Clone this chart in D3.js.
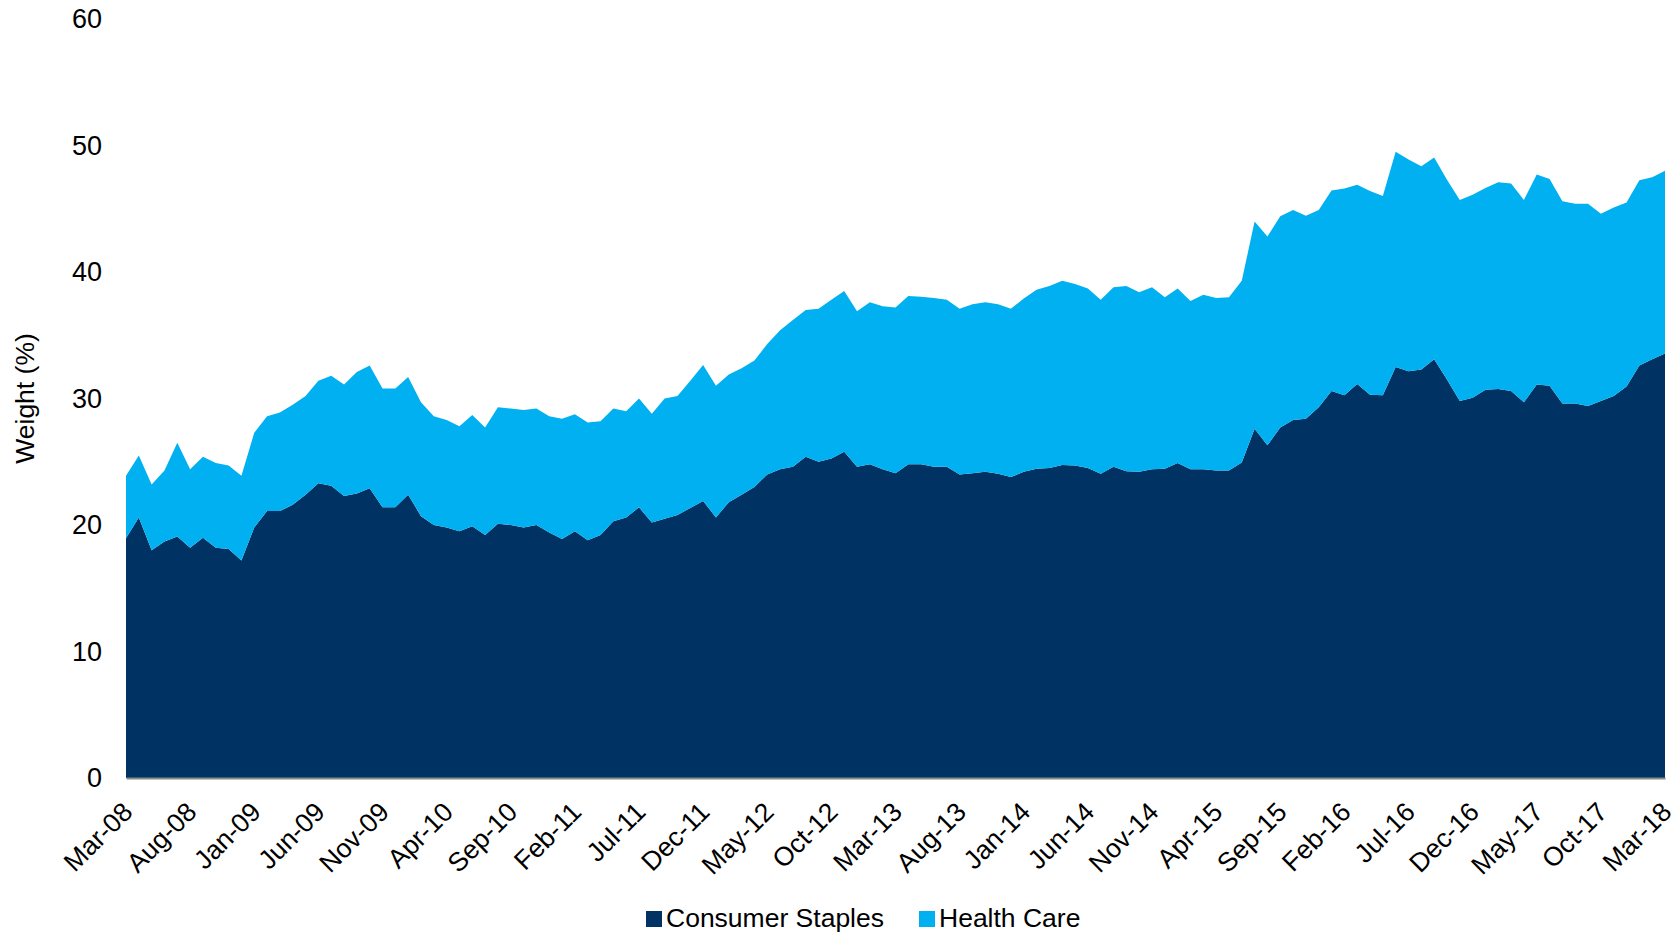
<!DOCTYPE html>
<html>
<head>
    <script src="https://d3js.org/d3.v7.min.js"></script>
    <style>
        body { margin: 0; background-color: white; }
        text { font-family: "Liberation Sans", Arial, Helvetica, sans-serif; fill: #000; }
    </style>
</head>

<body>

<div id="my_chart"></div>

<script>
    // monthly category labels, Mar-08 .. Mar-18
    var months = d3.timeMonth.range(new Date(2008, 2, 1), new Date(2018, 3, 1))
                   .map(d3.timeFormat("%b-%y"));

    // x axis labels shown (every 5 months)
    var tickLabels = ["Mar-08", "Aug-08", "Jan-09", "Jun-09", "Nov-09", "Apr-10", "Sep-10",
                      "Feb-11", "Jul-11", "Dec-11", "May-12", "Oct-12", "Mar-13", "Aug-13",
                      "Jan-14", "Jun-14", "Nov-14", "Apr-15", "Sep-15", "Feb-16", "Jul-16",
                      "Dec-16", "May-17", "Oct-17", "Mar-18"];

    var yTicks = [0, 10, 20, 30, 40, 50, 60];

    var seriesNames = ["Consumer Staples", "Health Care"];

    // weight (%)
    var consumerStaples = [
        18.95, 20.6, 18.0, 18.7, 19.1, 18.2, 19.0, 18.2, 18.1, 17.2,
        19.8, 21.1, 21.1, 21.6, 22.4, 23.3, 23.1, 22.3, 22.5, 22.9,
        21.4, 21.4, 22.4, 20.7, 20.0, 19.8, 19.5, 19.9, 19.2, 20.1,
        20.0, 19.8, 20.0, 19.4, 18.9, 19.5, 18.8, 19.2, 20.3, 20.6,
        21.4, 20.2, 20.5, 20.8, 21.35, 21.9, 20.6, 21.8, 22.4, 23.0,
        24.0, 24.4, 24.6, 25.4, 25.0, 25.25, 25.8, 24.6, 24.8, 24.4,
        24.1, 24.8, 24.8, 24.6, 24.6, 24.0, 24.1, 24.2, 24.05, 23.8,
        24.2, 24.45, 24.5, 24.75, 24.7, 24.5, 24.05, 24.6, 24.25, 24.2,
        24.4, 24.45, 24.9, 24.4, 24.4, 24.3, 24.3, 24.95, 27.6, 26.3,
        27.7, 28.3, 28.4, 29.3, 30.6, 30.25, 31.15, 30.3, 30.25, 32.5,
        32.15, 32.3, 33.1, 31.5, 29.8, 30.05, 30.7, 30.75, 30.6, 29.7,
        31.1, 31.0, 29.6, 29.6, 29.4, 29.8, 30.2, 30.95, 32.6, 33.1,
        33.55
    ];

    var healthCare = [
        4.95, 4.9, 5.2, 5.6, 7.4, 6.2, 6.4, 6.7, 6.6, 6.7,
        7.5, 7.5, 7.8, 7.9, 7.8, 8.1, 8.7, 8.8, 9.6, 9.7,
        9.4, 9.4, 9.3, 9.0, 8.6, 8.5, 8.3, 8.8, 8.5, 9.2,
        9.2, 9.3, 9.2, 9.2, 9.5, 9.25, 9.3, 9.0, 8.9, 8.4,
        8.6, 8.6, 9.5, 9.4, 10.05, 10.75, 10.4, 10.1, 10.0, 10.0,
        10.3, 11.0, 11.6, 11.6, 12.1, 12.55, 12.7, 12.3, 12.8, 12.9,
        13.1, 13.3, 13.25, 13.35, 13.2, 13.1, 13.35, 13.4, 13.4, 13.3,
        13.7, 14.15, 14.4, 14.55, 14.35, 14.2, 13.75, 14.2, 14.65, 14.2,
        14.4, 13.55, 13.8, 13.3, 13.8, 13.65, 13.7, 14.35, 16.4, 16.5,
        16.7, 16.6, 16.05, 15.6, 15.85, 16.35, 15.75, 16.1, 15.75, 17.0,
        16.75, 16.05, 15.95, 15.8, 15.9, 16.05, 15.95, 16.35, 16.4, 16.0,
        16.6, 16.35, 16.0, 15.8, 16.0, 14.8, 14.9, 14.55, 14.65, 14.4,
        14.45
    ];

    var colors = ["#003263", "#00b0f0"];

    var W = 1679, H = 935;
    var margin = {top: 19, right: 14, bottom: 157, left: 126};

    var svg = d3.select("#my_chart")
        .append("svg")
        .attr("width", W)
        .attr("height", H);

    var rows = months.map(function(m, i) {
        return {month: m, "Consumer Staples": consumerStaples[i], "Health Care": healthCare[i]};
    });

    var stacked = d3.stack().keys(seriesNames)(rows);

    var x = d3.scalePoint()
        .domain(months)
        .range([margin.left, W - margin.right]);

    var y = d3.scaleLinear()
        .domain([0, 60])
        .range([H - margin.bottom, margin.top]);

    var area = d3.area()
        .x(function(d) { return x(d.data.month); })
        .y0(function(d) { return y(d[0]); })
        .y1(function(d) { return y(d[1]); });

    // areas
    svg.selectAll(".layer")
       .data(stacked)
       .enter()
       .append("path")
       .attr("class", "layer")
       .attr("d", area)
       .attr("fill", function(d, i) { return colors[i]; });

    // Y axis
    var yAxis = svg.append("g")
       .attr("transform", "translate(" + margin.left + ",0)")
       .call(d3.axisLeft(y).tickValues(yTicks).tickSize(0).tickPadding(24));
    yAxis.select(".domain").remove();
    yAxis.selectAll("text")
       .style("font-size", "27px")
       .style("font-family", "'Liberation Sans', Arial, sans-serif");

    // X axis
    var xAxis = svg.append("g")
       .attr("transform", "translate(0," + y(0) + ")")
       .call(d3.axisBottom(x).tickValues(tickLabels).tickSize(0));
    xAxis.select(".domain")
       .attr("stroke", "#898989")
       .attr("stroke-width", 2);
    xAxis.selectAll("text")
       .attr("x", 0)
       .attr("y", 0)
       .attr("dy", "0.35em")
       .attr("transform", "translate(1,29) rotate(-45)")
       .style("text-anchor", "end")
       .style("font-size", "26.5px")
       .style("font-family", "'Liberation Sans', Arial, sans-serif");

    // Y axis title
    svg.append("text")
       .attr("transform", "translate(34," + ((y(0) + y(60)) / 2) + ") rotate(-90)")
       .attr("text-anchor", "middle")
       .style("font-size", "26.5px")
       .text("Weight (%)");

    // legend
    var legendX = [646, 919];
    var legend = svg.selectAll(".legend")
       .data(seriesNames)
       .enter()
       .append("g")
       .attr("class", "legend")
       .attr("transform", function(d, i) { return "translate(" + legendX[i] + ",911)"; });

    legend.append("rect")
       .attr("width", 16)
       .attr("height", 16)
       .attr("fill", function(d, i) { return colors[i]; });

    legend.append("text")
       .attr("x", 20)
       .attr("y", 16)
       .style("font-size", "26.5px")
       .text(function(d) { return d; });

</script>
</body>
</html>
